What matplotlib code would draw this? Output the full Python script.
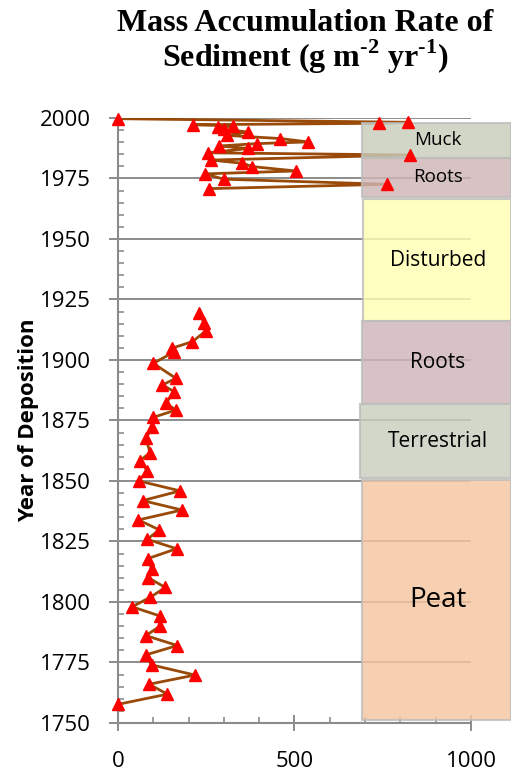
import matplotlib
matplotlib.use("Agg")
import numpy as np
import matplotlib.pyplot as plt
from matplotlib.patches import Rectangle
from matplotlib.ticker import MultipleLocator

# upper core section (post disturbance)
top_year = [1999.7, 1998.2, 1997.8, 1997.2, 1996.7, 1996.3, 1995.3, 1994.2, 1992.8, 1991.5,
            1990.1, 1989.4, 1988.4, 1987.4, 1985.6, 1984.7, 1982.6, 1981.3, 1979.9, 1978.1,
            1976.9, 1974.7, 1972.6, 1970.8]
top_rate = [0, 822, 739, 213, 327, 282, 301, 367, 308, 459,
            539, 393, 286, 369, 256, 827, 263, 352, 381, 504,
            246, 300, 763, 259]

# lower core section
low_year = [1919.3, 1915.4, 1912.0, 1907.6, 1904.8, 1903.4, 1898.6, 1892.4, 1889.7, 1886.9,
            1882.1, 1879.3, 1876.3, 1872.2, 1867.6, 1861.7, 1858.4, 1854.3, 1850.0, 1845.9,
            1841.9, 1838.0, 1833.9, 1829.8, 1825.9, 1822.0, 1817.9, 1813.8, 1810.0, 1806.0,
            1801.9, 1798.0, 1794.2, 1790.1, 1786.1, 1782.0, 1778.1, 1774.0, 1769.8, 1766.0,
            1761.9, 1757.7]
low_rate = [230, 244, 249, 211, 152, 160, 100, 164, 126, 159,
            136, 164, 100, 97, 79, 91, 62, 83, 59, 176,
            70, 181, 58, 117, 83, 166, 84, 95, 86, 134,
            91, 40, 119, 120, 79, 168, 78, 95, 218, 88,
            140, 0]

# sediment zones
zone_names = ["Muck", "Roots", "Disturbed", "Roots", "Terrestrial", "Peat"]
zone_top = [1997.9, 1983.5, 1966.5, 1916.1, 1881.8, 1850.4]
zone_bottom = [1983.5, 1967.4, 1916.1, 1881.8, 1851.2, 1751.2]
zone_left = [690, 690, 695, 690, 685, 690]

zone_colors = ["#c9cdbb", "#cfb6b6", "#ffffb4", "#cfb6ba", "#c9cfbd", "#f6c6a0"]
zone_fsize = [13.5, 13.5, 15, 15, 15, 20]

plt.rcParams['font.family'] = ['Open Sans', 'DejaVu Sans']
plt.rcParams['mathtext.fontset'] = 'custom'
plt.rcParams['mathtext.rm'] = 'Liberation Serif:bold'

fig = plt.figure(figsize=(5.11, 7.71), dpi=100)
ax = fig.add_axes([0.2309, 0.0623, 0.6908, 0.7847])

grid_c = "#8c8c8c"
line_c = "#9a4a08"

ax.plot(top_rate, top_year, color=line_c, lw=2, zorder=3)
ax.plot(low_rate, low_year, color=line_c, lw=2, zorder=3)

for i in range(len(zone_names)):
    r = Rectangle((zone_left[i], zone_bottom[i]), 1113 - zone_left[i], zone_top[i] - zone_bottom[i],
                  facecolor=zone_colors[i], edgecolor="#bdbdbd", lw=1.5, alpha=0.82,
                  clip_on=False, zorder=4)
    ax.add_patch(r)
    ax.text(906, (zone_top[i] + zone_bottom[i]) / 2, zone_names[i], fontsize=zone_fsize[i],
            ha="center", va="center", zorder=6)

ax.plot(top_rate, top_year, ls="none", marker="^", ms=8.5, color="#ff0000", zorder=5, clip_on=False)
ax.plot(low_rate, low_year, ls="none", marker="^", ms=8.5, color="#ff0000", zorder=5, clip_on=False)

ax.set_xlim(0, 1000)
ax.set_ylim(1750, 2000)
ax.set_xticks([0, 500, 1000])
ax.set_yticks(np.arange(1750, 2001, 25))
ax.xaxis.set_minor_locator(MultipleLocator(100))
ax.yaxis.set_minor_locator(MultipleLocator(5))

ax.grid(axis="y", color=grid_c, lw=1.4, zorder=1)
ax.set_axisbelow(True)
for s in ["top", "right"]:
    ax.spines[s].set_visible(False)
for s in ["left", "bottom"]:
    ax.spines[s].set_color(grid_c)
    ax.spines[s].set_linewidth(1.5)

ax.tick_params(axis="y", which="major", direction="out", length=6.5, width=1.4, color=grid_c,
               labelsize=16, pad=13)
ax.tick_params(axis="y", which="minor", direction="in", length=4.5, width=1.2, color=grid_c)
ax.tick_params(axis="x", which="major", direction="inout", length=11, width=1.4, color=grid_c,
               labelsize=16, pad=15)
ax.tick_params(axis="x", which="minor", direction="in", length=4, width=1.2, color=grid_c)

ax.set_ylabel("Year of Deposition", fontsize=16, fontweight="bold", labelpad=1)

fig.text(0.597, 0.969, "Mass Accumulation Rate of", family="Liberation Serif",
         fontweight="bold", fontsize=23, ha="center", va="center")
fig.text(0.597, 0.926, r"Sediment (g m$^{\text{-2}}$ yr$^{\text{-1}}$)", family="Liberation Serif",
         fontweight="bold", fontsize=23, ha="center", va="center")

fig.savefig("out.png", dpi=100)
